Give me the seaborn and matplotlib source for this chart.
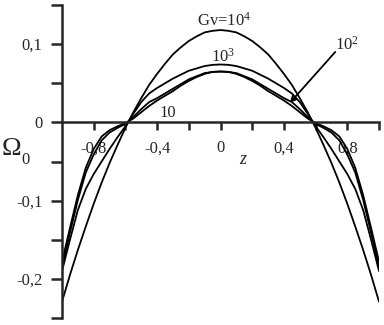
import matplotlib
matplotlib.use("Agg")
import numpy as np
import pandas as pd
import seaborn as sns
import matplotlib.pyplot as plt
from matplotlib.ticker import FixedLocator

# ---- data ----
z = [-1.0, -0.95, -0.9, -0.85, -0.8, -0.75, -0.7, -0.65, -0.6, -0.55, -0.5,
     -0.45, -0.4, -0.35, -0.3, -0.25, -0.2, -0.15, -0.1, -0.05, 0.0,
     0.05, 0.1, 0.15, 0.2, 0.25, 0.3, 0.35, 0.4, 0.45, 0.5,
     0.55, 0.6, 0.65, 0.7, 0.75, 0.8, 0.85, 0.9, 0.95, 1.0]

omega_gv1e4 = [-0.229, -0.195, -0.163, -0.133, -0.104, -0.077, -0.052, -0.029, -0.007, 0.013, 0.031,
               0.048, 0.062, 0.075, 0.087, 0.096, 0.104, 0.110, 0.115, 0.117, 0.118,
               0.117, 0.115, 0.110, 0.104, 0.096, 0.087, 0.075, 0.062, 0.048, 0.031,
               0.013, -0.007, -0.029, -0.052, -0.077, -0.104, -0.133, -0.163, -0.195, -0.229]

omega_gv1e3 = [-0.190, -0.150, -0.112, -0.085, -0.066, -0.050, -0.034, -0.019, -0.005, 0.011, 0.026,
               0.037, 0.044, 0.050, 0.056, 0.061, 0.066, 0.069, 0.072, 0.0735, 0.074,
               0.0735, 0.072, 0.069, 0.066, 0.061, 0.056, 0.050, 0.044, 0.037, 0.026,
               0.011, -0.005, -0.019, -0.034, -0.050, -0.066, -0.085, -0.112, -0.150, -0.190]

omega_gv1e2 = [-0.185, -0.141, -0.099, -0.064, -0.041, -0.023, -0.013, -0.007, -0.002, 0.007, 0.017,
               0.026, 0.031, 0.037, 0.043, 0.049, 0.055, 0.059, 0.063, 0.0645, 0.065,
               0.0645, 0.063, 0.059, 0.055, 0.049, 0.043, 0.037, 0.031, 0.026, 0.017,
               0.007, -0.002, -0.007, -0.013, -0.023, -0.041, -0.064, -0.099, -0.141, -0.185]

omega_gv1e1 = [-0.178, -0.135, -0.093, -0.058, -0.034, -0.018, -0.010, -0.005, -0.001, 0.005, 0.013,
               0.021, 0.028, 0.034, 0.040, 0.047, 0.053, 0.058, 0.062, 0.0645, 0.065,
               0.0645, 0.062, 0.058, 0.053, 0.047, 0.040, 0.034, 0.028, 0.021, 0.013,
               0.005, -0.001, -0.005, -0.010, -0.018, -0.034, -0.058, -0.093, -0.135, -0.178]

series_names = ["1e4", "1e3", "1e2", "1e1"]
x_tick_pos = [-0.8, -0.6, -0.4, -0.2, 0.0, 0.2, 0.4, 0.6, 0.8, 1.0]
x_tick_lab = ["-0,8", "", "-0,4", "", "0", "", "0,4", "", "0,8", ""]
y_tick_pos = [-0.2, -0.1, 0.0, 0.1]
y_tick_lab = ["-0,2", "-0,1", "0", "0,1"]
y_minor_pos = [-0.25, -0.15, -0.05, 0.05, 0.15]

df = pd.concat([
    pd.DataFrame({"z": z, "omega": v, "Gv": name})
    for name, v in zip(series_names,
                       [omega_gv1e4, omega_gv1e3, omega_gv1e2, omega_gv1e1])
])

sns.set_style("ticks")
plt.rcParams["font.family"] = ["Liberation Serif", "DejaVu Serif"]
plt.rcParams["mathtext.fontset"] = "custom"
plt.rcParams["mathtext.rm"] = "Liberation Serif"
plt.rcParams["mathtext.it"] = "Liberation Serif:italic"

fig = plt.figure(figsize=(3.84, 3.25), dpi=100)
ax = fig.add_axes([0.1615, 0.0215, 0.8255, 0.9631])

sns.lineplot(data=df, x="z", y="omega", hue="Gv", sort=False,
             palette=["black"] * 4, legend=False, linewidth=1.3, ax=ax,
             estimator=None)

ax.set_xlim(-1.0, 1.0)
ax.set_ylim(-0.25, 0.15)

for s in ["top", "right"]:
    ax.spines[s].set_visible(False)
ax.spines["bottom"].set_position(("data", 0))
ax.spines["left"].set_linewidth(1.8)
ax.spines["bottom"].set_linewidth(1.8)

ax.xaxis.set_major_locator(FixedLocator(x_tick_pos))
ax.set_xticklabels(x_tick_lab)
ax.yaxis.set_major_locator(FixedLocator(y_tick_pos))
ax.set_yticklabels(y_tick_lab)
ax.yaxis.set_minor_locator(FixedLocator(y_minor_pos))
ax.tick_params(axis="x", direction="out", length=6, width=1.8, pad=7, labelsize=12)
ax.tick_params(axis="y", which="major", direction="out", length=8, width=1.8, pad=6, labelsize=12)
ax.tick_params(axis="y", which="minor", direction="out", length=8, width=1.8)
ax.set_xlabel("")
ax.set_ylabel("")

fig.text(11 / 384, 1 - 149 / 325, "\u03a9", fontsize=19, ha="center", va="center")
fig.text(25 / 384, 1 - 160 / 325, "0", fontsize=12, ha="center", va="center")
ax.text(0.14, -0.048, "z", fontsize=13, style="italic", ha="center", va="center")

ax.text(0.025, 0.1296, r"Gv=10$^4$", fontsize=12, ha="center", va="center")
ax.text(0.013, 0.0837, r"10$^3$", fontsize=12, ha="center", va="center")
ax.text(0.80, 0.099, r"10$^2$", fontsize=12, ha="center", va="center")
ax.text(-0.33, 0.0124, "10", fontsize=12, ha="center", va="center")
ax.annotate("", xy=(0.438, 0.025), xytext=(0.724, 0.090),
            arrowprops=dict(arrowstyle="-|>", color="black", lw=1.3,
                            mutation_scale=9, shrinkA=0, shrinkB=0))

fig.savefig("out.png", dpi=100)
